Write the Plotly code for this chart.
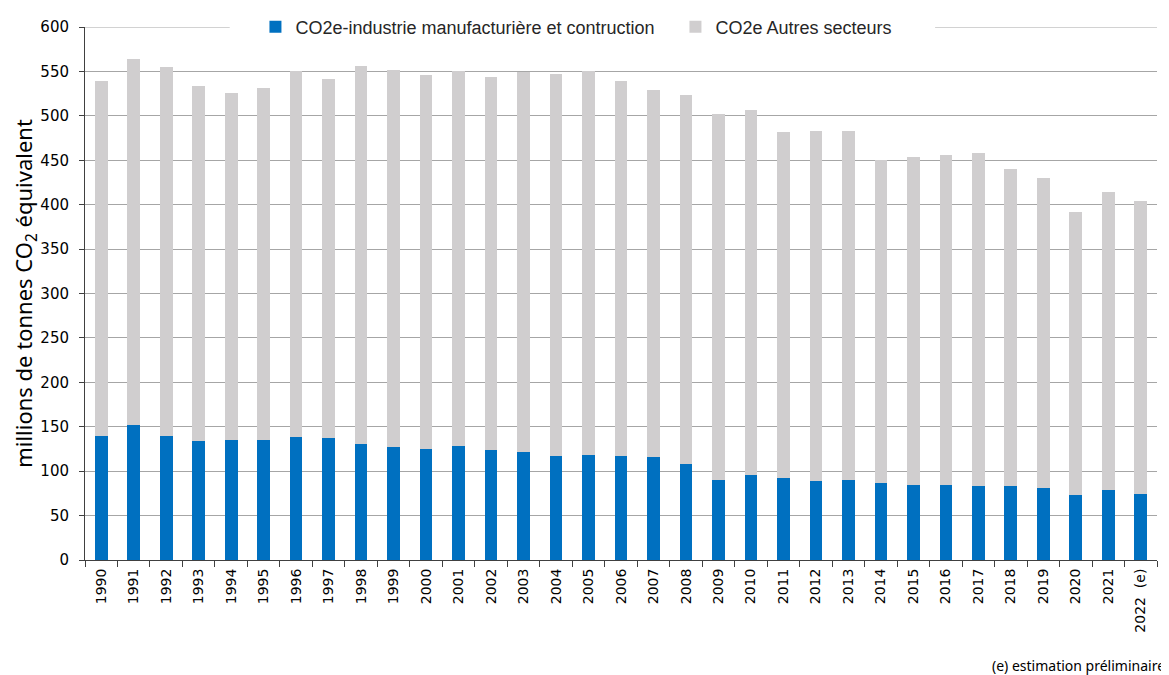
import plotly.graph_objects as go

years = [str(y) for y in range(1990, 2022)] + ["2022  (e)"]

industrie = [140, 152, 140, 134.5, 135.5, 135.5, 138, 137, 131, 127,
             124.5, 128, 123.5, 122, 117, 118.5, 117, 116, 108.5, 90.5,
             95.5, 92, 88.5, 89.5, 87, 84.5, 84.5, 83.5, 83.5, 81,
             73.5, 78.5, 74.5]

autres = [399, 412, 415.5, 399.5, 390, 396, 412, 404.5, 425, 425,
          421, 422, 420.5, 427, 430.5, 431.5, 422, 413, 415.5, 412,
          411, 389.5, 394, 393, 363.5, 369.5, 371, 374.5, 357, 349.5,
          318, 336, 330]

y_ticks = list(range(0, 601, 50))
grid_color = "#A6A6A6"

fig = go.Figure()
fig.add_trace(go.Bar(x=years, y=industrie, name="CO2e-industrie manufacturière et contruction",
                     marker=dict(color="#0070C0", line=dict(width=0))))
fig.add_trace(go.Bar(x=years, y=autres, name="CO2e Autres secteurs",
                     marker=dict(color="#D0CECF", line=dict(width=0))))

# top gridline, interrupted behind the legend
fig.add_shape(type="rect", xref="paper", yref="y", x0=0.135, x1=0.793, y0=596, y1=604,
              fillcolor="white", line=dict(width=0), layer="above")
fig.add_shape(type="line", xref="paper", yref="y", x0=0, x1=0.135, y0=600, y1=600,
              line=dict(color=grid_color, width=1), layer="above")
fig.add_shape(type="line", xref="paper", yref="y", x0=0.793, x1=1, y0=600, y1=600,
              line=dict(color=grid_color, width=1), layer="above")

fig.update_layout(
    barmode="stack",
    bargap=0.61,
    width=1161, height=667,
    margin=dict(l=77, r=12, t=19, b=115, autoexpand=False),
    plot_bgcolor="white", paper_bgcolor="white",
    font=dict(family="DejaVu Sans", color="#000000"),
    legend=dict(orientation="h", x=0.159, xanchor="left", y=1.0, yanchor="middle",
                bgcolor="rgba(0,0,0,0)", font=dict(family="Liberation Sans", size=18, color="#262626"),
                itemwidth=30, traceorder="normal", entrywidth=375, entrywidthmode="pixels"),
    xaxis=dict(type="category", showline=True, linecolor="#404040", linewidth=1,
               ticks="outside", tickson="boundaries", ticklen=6, tickcolor="#404040",
               tickangle=-90, tickfont=dict(family="DejaVu Sans", size=14, color="#000000"),
               ticklabelstandoff=2, showgrid=False, automargin=False),
    yaxis=dict(range=[0, 600], tickvals=y_ticks, showline=True, linecolor="#404040", linewidth=1,
               ticks="outside", ticklen=5, tickcolor="#404040",
               gridcolor=grid_color, gridwidth=1, automargin=False, ticklabelstandoff=7,
               tickfont=dict(family="DejaVu Sans", size=15, color="#000000"),
               title=dict(text="millions de tonnes CO<sub>2</sub> équivalent",
                          font=dict(family="Noto Sans", size=22, color="#000000"), standoff=17)),
)

fig.add_annotation(text="(e) estimation préliminaire", xref="paper", yref="paper",
                   x=1.009, y=-0.197, xanchor="right", yanchor="middle", showarrow=False,
                   font=dict(family="Noto Sans", size=14, color="#000000"))

fig.write_html("out.html")
